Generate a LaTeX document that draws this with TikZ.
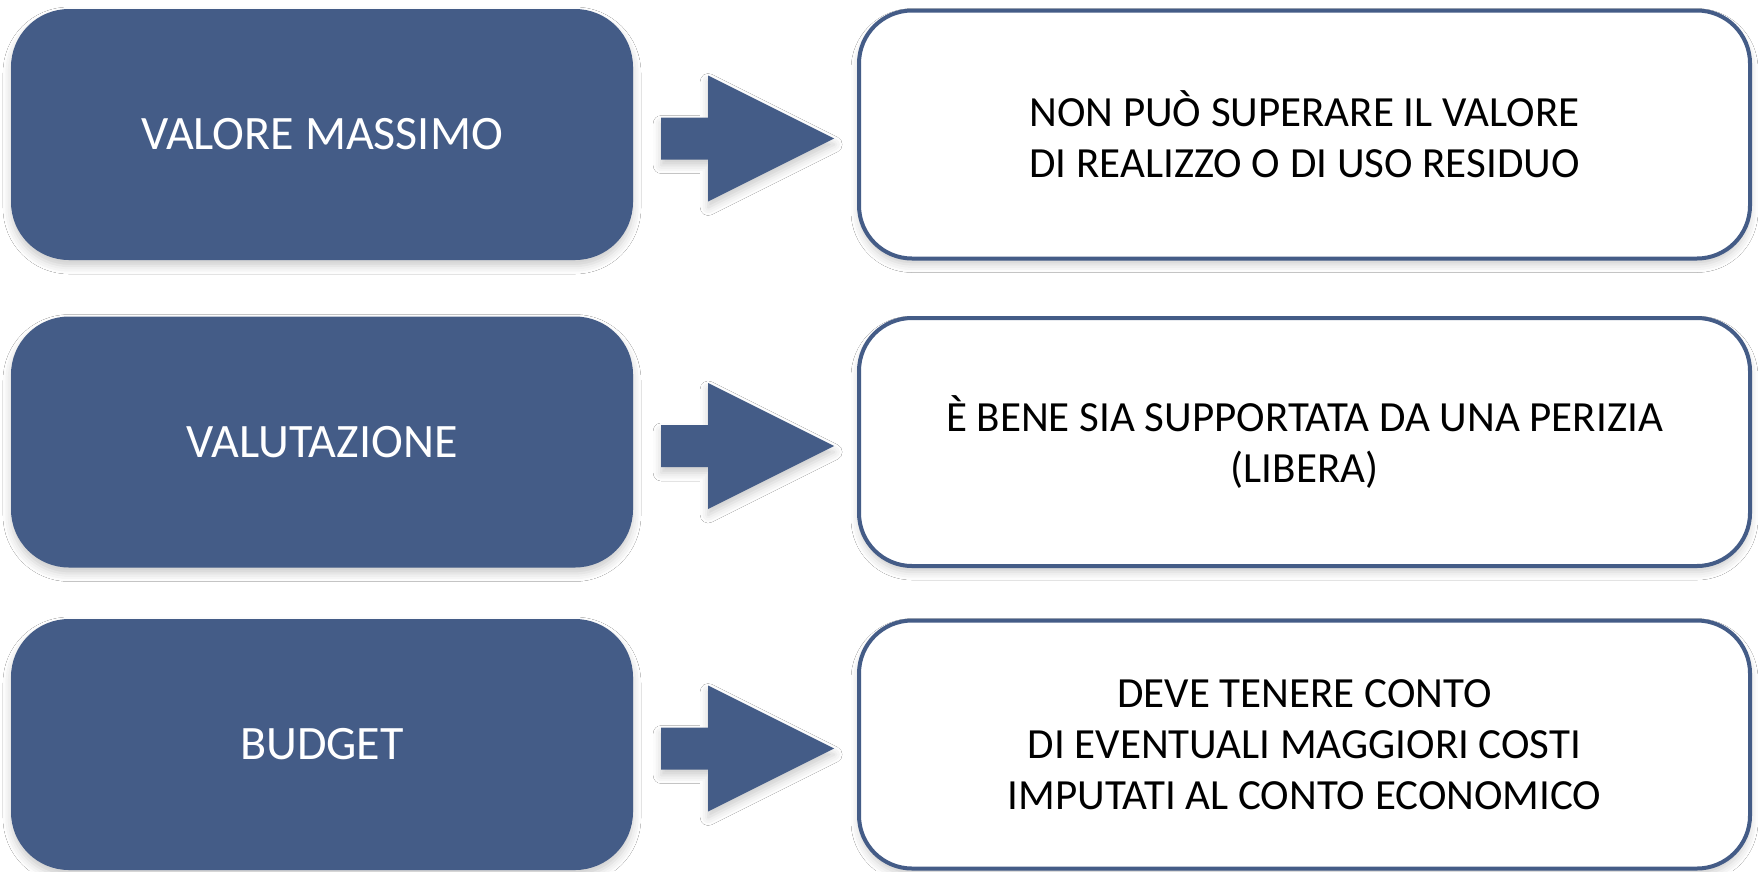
\documentclass[tikz,border=0pt]{standalone}
\usepackage{fontspec}
\setmainfont{Carlito}
\usetikzlibrary{calc,shadows.blur}
\definecolor{navy}{RGB}{68,92,135}
\tikzset{
  softshadow/.style={blur shadow={shadow xshift=0pt, shadow yshift=-6pt, shadow blur radius=8pt, shadow opacity=20}},
  leftbox/.style={rectangle, rounded corners=58pt, fill=navy, minimum width=622pt, minimum height=251pt, inner sep=0pt, text=white, font=\fontsize{48}{56}\selectfont, softshadow},
  rightbox/.style={rectangle, rounded corners=53pt, fill=white, draw=navy, line width=4pt, minimum width=891pt, minimum height=248pt, inner sep=0pt, align=center, text=black, font=\fontsize{43}{51}\selectfont, softshadow},
  blockarrow/.style={fill=navy, softshadow}
}
\begin{document}
\begin{tikzpicture}[x=1pt,y=-1pt]
\useasboundingbox (0,0) rectangle (1758,871);
\fill[white] (0,0) rectangle (1758,871);
\node[leftbox] (L1) at (322,134.5) {VALORE MASSIMO};
\node[leftbox] (L2) at (322,442) {VALUTAZIONE};
\node[leftbox] (L3) at (322,744.5) {BUDGET};
\node[rightbox] (R1) at (1304.5,134.5) {NON PUÒ SUPERARE IL VALORE\\DI REALIZZO O DI USO RESIDUO};
\node[rightbox] (R2) at (1304.5,442) {È BENE SIA SUPPORTATA DA UNA PERIZIA\\(LIBERA)};
\node[rightbox] (R3) at (1304.5,744.5) {DEVE TENERE CONTO\\DI EVENTUALI MAGGIORI COSTI\\IMPUTATI AL CONTO ECONOMICO};
\foreach \i in {1,2,3}{
  \coordinate (c\i) at ($(L\i.east)+(28,4)$);
  \fill[blockarrow] ($(c\i)+(0,-21)$) -- ($(c\i)+(47,-21)$) -- ($(c\i)+(47,-63)$) -- ($(c\i)+(173,0)$) -- ($(c\i)+(47,63)$) -- ($(c\i)+(47,21)$) -- ($(c\i)+(0,21)$) -- cycle;
}
\end{tikzpicture}
\end{document}
